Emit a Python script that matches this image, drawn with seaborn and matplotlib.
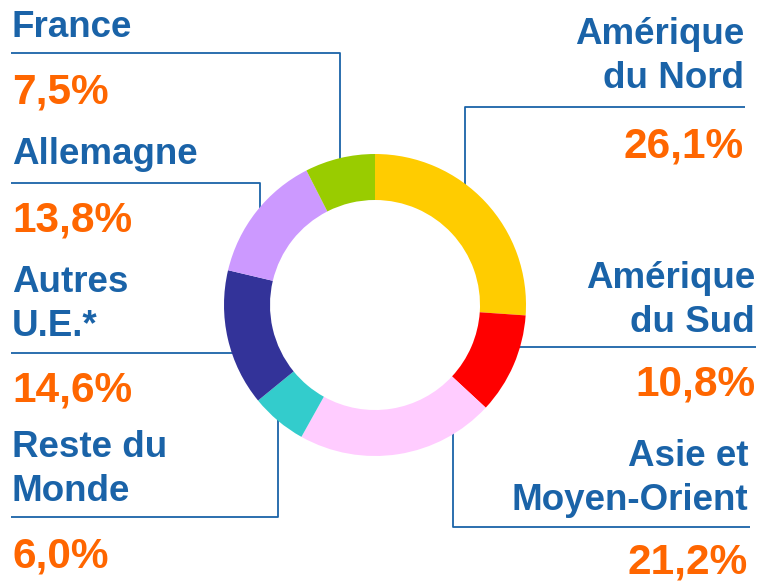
import numpy as np
import seaborn as sns
import matplotlib.pyplot as plt

# Data
regions = ["Amérique\ndu Nord", "Amérique\ndu Sud", "Asie et\nMoyen-Orient",
           "Reste du\nMonde", "Autres\nU.E.*", "Allemagne", "France"]
shares = [26.1, 10.8, 21.2, 6.0, 14.6, 13.8, 7.5]
slice_colors = ["#FFCC00", "#FF0000", "#FFCCFF", "#33CCCC", "#333399", "#CC99FF", "#99CC00"]

blue = "#1A63A8"
orange = "#FF6600"

# label layout in pixels: (x, align, label baseline, pct baseline)
label_pos = {
    "Amérique\ndu Nord": (744, "right", 44, 157),
    "Amérique\ndu Sud": (755, "right", 288, 395),
    "Asie et\nMoyen-Orient": (748, "right", 466, 574),
    "Reste du\nMonde": (12, "left", 457, 567),
    "Autres\nU.E.*": (12, "left", 292, 402),
    "Allemagne": (12, "left", 164, 231),
    "France": (12, "left", 37, 103),
}
# connector lines in pixels
connectors = [
    [(11, 53), (340, 53), (340, 162)],
    [(11, 183), (260, 183), (260, 214)],
    [(11, 353), (234, 353)],
    [(11, 517), (278, 517), (278, 412)],
    [(745, 107), (465, 107), (465, 188)],
    [(756, 347), (518, 347)],
    [(750, 527), (453, 527), (453, 428)],
]

H = 582
sns.set_theme(style="white")
plt.rcParams['font.family'] = ['Liberation Sans', 'DejaVu Sans']

fig = plt.figure(figsize=(7.6, 5.82), dpi=100)
ax = fig.add_axes([0, 0, 1, 1])

for pts in connectors:
    xs = [p[0] for p in pts]
    ys = [H - p[1] for p in pts]
    ax.plot(xs, ys, color=blue, lw=1.3, zorder=1, solid_capstyle="butt")

ax.pie(shares, colors=slice_colors, startangle=90, counterclock=False,
       radius=151, center=(375, H - 305),
       wedgeprops=dict(width=46, edgecolor="none", linewidth=0, zorder=2))

for name, val in zip(regions, shares):
    x, ha, base, pbase = label_pos[name]
    for i, line in enumerate(name.split("\n")):
        ax.text(x, H - (base + i * 44), line, ha=ha, va="baseline", fontsize=26.5,
                fontweight="bold", color=blue, zorder=3)
    pct = ("%.1f%%" % val).replace(".", ",")
    ax.text(x, H - pbase, pct, ha=ha, va="baseline", fontsize=30.5,
            fontweight="bold", color=orange, zorder=3)

ax.set_xlim(0, 760)
ax.set_ylim(0, H)
ax.set_aspect("equal")
ax.axis("off")

fig.savefig("out.png", dpi=100, facecolor="white")
